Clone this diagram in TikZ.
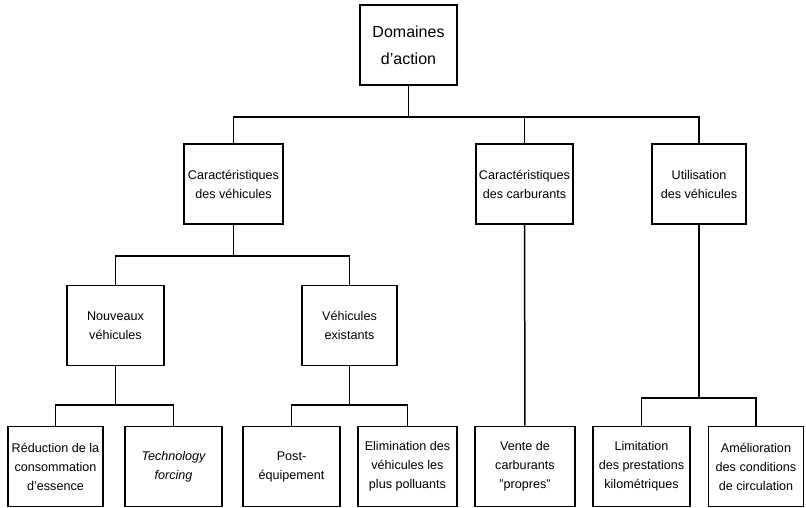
\documentclass[tikz,border=0pt]{standalone}
\usepackage{fontspec}
\setmainfont{Liberation Sans}
\begin{document}
\begin{tikzpicture}[x=1pt, y=-1pt, line width=1.5pt,
        every node/.style={rectangle, draw, line width=1.8pt, minimum width=97pt, minimum height=80pt,
          align=center, inner sep=1pt, font=\fontsize{12.6}{19}\selectfont}]
        \useasboundingbox (0,0) rectangle (806,508);
        % Racine
        \node (R) at (408.5,45) [font=\fontsize{16}{27}\selectfont] {Domaines\\d'action};
        
        % Premier niveau
        \node (CV) at (233.5,184) [minimum width=99pt] {Caractéristiques\\des véhicules};
        \node (CC) at (524.5,184) {Caractéristiques\\des carburants};
        \node (UV) at (699,184) [minimum width=94pt] {Utilisation\\des véhicules};
        
        % Deuxième niveau
        \node (NV) at (115.5,325.5) {Nouveaux\\véhicules};
        \node (VE) at (349.5,325.5) [minimum width=95pt] {Véhicules\\existants};
        
        % Troisième niveau
        \node (RC) at (55.5,466.5) [minimum width=95pt] {Réduction de la\\consommation\\d'essence};
        \node (TF) at (173.5,466.5) [font=\fontsize{12.6}{19}\selectfont\itshape] {Technology\\forcing};
        \node (PE) at (291.5,466.5) {Post-\\équipement};
        \node (EV) at (407.5,466.5) [minimum width=99pt] {Elimination des\\véhicules les\\plus polluants};
        \node (VC) at (525,466.5) [minimum width=100pt] {Vente de\\carburants\\"propres"};
        \node (LP) at (641.5,466.5) {Limitation\\des prestations\\kilométriques};
        \node (AC) at (756,466.5) [minimum width=95pt] {Amélioration\\des conditions\\de circulation};
        
        % Liaisons
        \coordinate (b0) at (408.5,117);
        \coordinate (b1) at (233.5,256);
        \coordinate (b2) at (115.5,405);
        \coordinate (b3) at (349.5,405);
        \coordinate (b4) at (699,398);
        \draw (R) -- (b0) -| (CV);
        \draw (b0) -| (UV);
        \draw (CC) -- (CC |- b0);
        \draw (CV) -- (b1);
        \draw (NV) |- (b1) -| (VE);
        \draw (NV) -- (b2);
        \draw (RC) |- (b2) -| (TF);
        \draw (VE) -- (b3);
        \draw (PE) |- (b3) -| (EV);
        \draw (CC) -- (VC);
        \draw (UV) -- (b4);
        \draw (LP) |- (b4) -| (AC);
    \end{tikzpicture}
\end{document}
